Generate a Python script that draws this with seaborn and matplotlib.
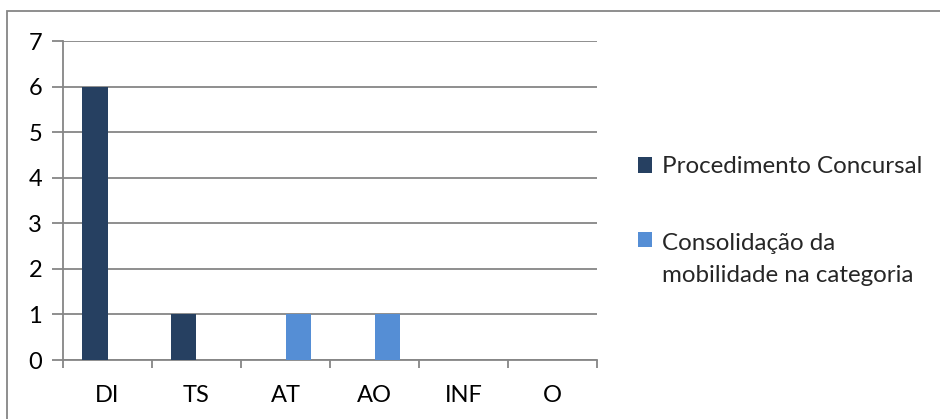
import matplotlib
matplotlib.use("Agg")
import matplotlib.pyplot as plt
from matplotlib.patches import Rectangle
from matplotlib.legend_handler import HandlerPatch
import seaborn as sns
import pandas as pd

categories = ["DI", "TS", "AT", "AO", "INF", "O"]
series_names = ["Procedimento Concursal", "Consolidação da\nmobilidade na categoria"]
procedimento = [6, 1, 0, 0, 0, 0]
consolidacao = [0, 0, 1, 1, 0, 0]
y_ticks = [0, 1, 2, 3, 4, 5, 6, 7]

colors = ["#264061", "#558ED5"]
grid_gray = "#868686"
FS = 17.4
LINESPACING = 1.65

df = pd.DataFrame({
    "categoria": categories * 2,
    "serie": [series_names[0]] * len(categories) + [series_names[1]] * len(categories),
    "valor": procedimento + consolidacao,
})

sns.set_theme(style="white")
plt.rcParams["font.family"] = ["Lato", "DejaVu Sans"]

W, H = 940, 419
fig = plt.figure(figsize=(W / 100, H / 100), dpi=100)
ax = fig.add_axes([63 / W, (H - 360) / H, (597 - 63) / W, (360 - 41) / H])

sns.barplot(data=df, x="categoria", y="valor", hue="serie", order=categories,
            hue_order=series_names, palette=colors, width=0.57, dodge=True,
            saturation=1, linewidth=0, ax=ax, zorder=3, legend=True)

ax.set_xlim(-0.5, len(categories) - 0.5)
ax.set_ylim(0, 7)
ax.set_yticks(y_ticks)
ax.set_yticklabels([str(t) for t in y_ticks], fontsize=17, color="#000000")
ax.set_xticks(range(len(categories)))
ax.set_xticklabels(categories, fontsize=17, color="#000000")
ax.set_xlabel("")
ax.set_ylabel("")

# horizontal gridlines, drawn past the axis as outward ticks
ax.yaxis.grid(True, color=grid_gray, linewidth=1.3, zorder=0)
ax.xaxis.grid(False)
ax.tick_params(axis="y", which="major", length=8, width=1.3, color=grid_gray,
               direction="out", left=True, pad=7)
ax.tick_params(axis="x", which="major", length=0, pad=18)
# category boundary tick marks
ax.set_xticks([i - 0.5 for i in range(len(categories) + 1)], minor=True)
ax.tick_params(axis="x", which="minor", length=6, width=1.3, color=grid_gray,
               direction="out", bottom=True)

for side in ["top", "right"]:
    ax.spines[side].set_visible(False)
for side in ["left", "bottom"]:
    ax.spines[side].set_color(grid_gray)
    ax.spines[side].set_linewidth(1.3)


def top_line_patch(legend, orig_handle, xdescent, ydescent, width, height, fontsize):
    # keep the swatch level with the first line of a two-line label
    shift = 0.5 * LINESPACING * fontsize
    return Rectangle((-xdescent, -ydescent + shift), width, height)


handles, labels = ax.get_legend_handles_labels()
leg = ax.legend(handles, labels, loc="center left", bbox_to_anchor=(628 / W, 0.472),
                bbox_transform=fig.transFigure, frameon=False, fontsize=FS,
                handlelength=0.6, handleheight=0.6, handletextpad=0.4,
                labelspacing=2.3, borderaxespad=0,
                handler_map={handles[1]: HandlerPatch(patch_func=top_line_patch)})
for t in leg.get_texts():
    t.set_linespacing(LINESPACING)

# outer chart border
fig.patches.append(Rectangle((7 / W, -0.1), 1.0, (H - 11) / H + 0.1,
                             transform=fig.transFigure, fill=False,
                             edgecolor=grid_gray, linewidth=1.3))

fig.savefig("out.png", dpi=100)
